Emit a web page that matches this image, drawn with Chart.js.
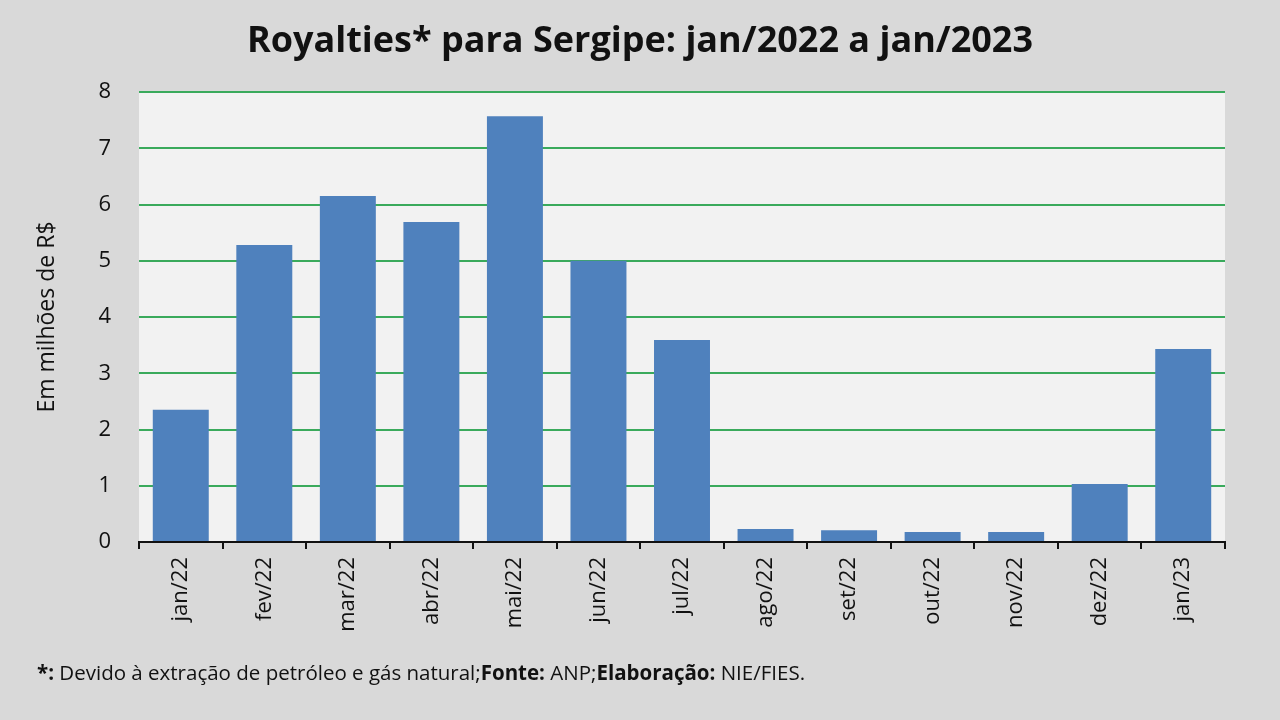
<!DOCTYPE html>
<html>
<head>
<meta charset="utf-8">
<script src="https://cdn.jsdelivr.net/npm/chart.js@4"></script>
<style>
  html, body { margin: 0; padding: 0; background: #d9d9d9; }
  #wrap { position: relative; width: 1280px; height: 720px; }
  #footer {
    position: absolute; left: 37px; top: 658px;
    font-family: "Open Sans", sans-serif; font-size: 20.5px; color: #111;
    white-space: nowrap;
  }
</style>
</head>
<body>
<div id="wrap">
  <canvas id="royaltiesChart" width="1280" height="720"></canvas>
  <div id="footer"><b>*:</b> Devido à extração de petróleo e gás natural;<b>Fonte:</b> ANP;<b>Elaboração:</b> NIE/FIES.</div>
</div>
<script>
// data
const months = ['jan/22', 'fev/22', 'mar/22', 'abr/22', 'mai/22', 'jun/22', 'jul/22',
                'ago/22', 'set/22', 'out/22', 'nov/22', 'dez/22', 'jan/23'];
const royalties = [2.35, 5.28, 6.15, 5.69, 7.57, 5.0, 3.59, 0.23, 0.21, 0.18, 0.18, 1.03, 3.43];
const yTicks = [0, 1, 2, 3, 4, 5, 6, 7, 8];

// fills the plot area with light grey
const plotBackground = {
    id: 'plotBackground',
    beforeDraw(chart) {
        const { ctx, chartArea } = chart;
        ctx.save();
        ctx.fillStyle = '#f2f2f2';
        ctx.fillRect(chartArea.left, chartArea.top, chartArea.right - chartArea.left, chartArea.bottom - chartArea.top);
        ctx.restore();
    }
};

const ctxRoyalties = document.getElementById('royaltiesChart').getContext('2d');

const royaltiesChart = new Chart(ctxRoyalties, {
    type: 'bar',
    data: {
        labels: months,
        datasets: [{
            label: 'Royalties',
            data: royalties,
            backgroundColor: '#4f81bd',
            borderWidth: 0,
            barPercentage: 0.67,
            categoryPercentage: 1
        }]
    },
    options: {
        responsive: false,
        animation: false,
        layout: { padding: { left: 55, right: 55, top: 0, bottom: 0 } },
        plugins: {
            legend: { display: false },
            tooltip: { enabled: false },
            title: {
                display: true,
                text: 'Royalties* para Sergipe: jan/2022 a jan/2023',
                color: '#111',
                font: { family: 'Open Sans', size: 36, weight: 'bold', lineHeight: 1.2 },
                padding: { top: 20.4, bottom: 28.4 }
            }
        },
        scales: {
            x: {
                grid: {
                    offset: true,
                    drawOnChartArea: false,
                    drawTicks: true,
                    tickLength: 7,
                    color: '#111',
                    lineWidth: 2
                },
                border: { display: true, color: '#111', width: 2 },
                ticks: {
                    color: '#111',
                    minRotation: 90,
                    maxRotation: 90,
                    padding: 8,
                    font: { family: 'Open Sans', size: 22 }
                },
                afterFit(scale) { scale.height = 178; }
            },
            y: {
                min: 0,
                max: 8,
                afterBuildTicks(scale) { scale.ticks = yTicks.map(v => ({ value: v })); },
                grid: { color: '#3aaa5c', lineWidth: 2, drawTicks: false },
                border: { display: false },
                ticks: {
                    color: '#111',
                    padding: 28,
                    font: { family: 'Open Sans', size: 22 }
                },
                title: {
                    display: true,
                    text: 'Em milhões de R$',
                    color: '#111',
                    font: { family: 'Open Sans', size: 23 },
                    padding: { top: -21, bottom: 0 }
                },
                afterFit(scale) { scale.width = 84; }
            }
        }
    },
    plugins: [plotBackground]
});
</script>
</body>
</html>
